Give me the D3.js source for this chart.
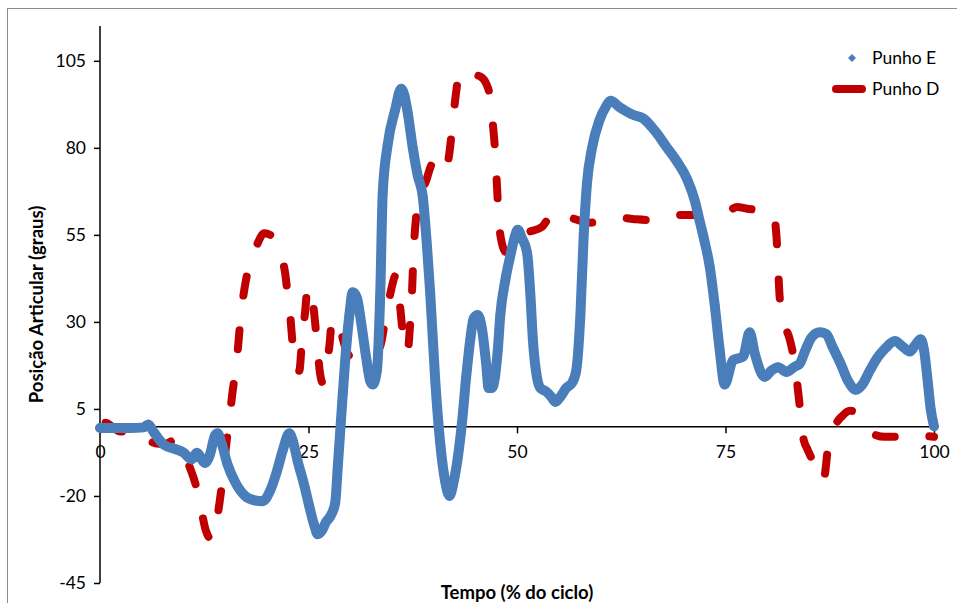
<!DOCTYPE html>
<html>
<head>
<meta charset="utf-8">
<script src="https://cdn.jsdelivr.net/npm/d3@7"></script>
<style>
  body { margin: 0; background: #fff; }
  svg { display: block; }
  text { font-family: Lato, "Open Sans", "Liberation Sans", sans-serif; fill: #000; }
</style>
</head>
<body>
<svg id="chart" width="957" height="603"></svg>
<script>
// Tempo (% do ciclo) e posição articular (graus) — Punho E
const tempoE = [0,1.8,3.6,5.2,5.8,6.4,7.0,7.8,9.0,10.0,11.0,11.6,12.6,13.2,13.8,14.1,14.6,15.3,16.2,17.4,18.6,19.5,20.4,21.2,21.9,22.7,23.1,23.7,24.5,25.1,25.7,26.1,26.6,27.1,27.7,28.2,28.5,28.9,29.4,29.9,30.3,30.8,31.3,31.9,32.4,32.7,33.2,33.6,33.9,34.5,35.4,36.1,36.5,36.9,37.5,38.1,38.7,39.2,39.6,40.2,40.8,41.4,41.9,42.4,42.9,43.4,43.9,44.4,44.8,45.3,45.8,46.3,46.6,47.0,47.7,48.0,48.6,49.2,49.8,50.1,50.6,51.2,51.6,51.9,52.4,52.8,53.5,54.1,54.6,55.2,55.9,56.6,57.1,57.6,58.0,58.4,59.0,59.9,60.7,61.2,62.4,63.9,65.1,66.5,68.0,69.2,70.4,71.3,71.9,72.5,73.1,73.7,74.3,74.9,75.9,77.1,77.9,78.5,79.7,80.5,81.3,82.3,83.2,83.9,84.6,85.3,86.3,87.1,87.8,88.8,89.7,90.6,91.4,92.3,93.3,94.2,95.3,96.2,97.1,97.8,98.4,98.8,99.2,99.6,100];
const punhoE = [-0.5,-0.5,-0.5,-0.3,0.5,-1.5,-3.5,-5.5,-6.5,-7.5,-9.5,-7.6,-10.5,-8,-2.5,-2,-5,-11,-16,-20,-21.3,-21.5,-18.5,-13,-7,-2,-4,-10,-17,-23,-28.5,-31,-30,-27.5,-25.5,-22,-12,2,19,32,38.5,37,30,20,13,12,16,38,67,81,91,97,95,90,80,72,66,52,38,13,-5,-16,-20,-16,-9,1,14,25,31,32,28,18,11,11,22,32,42,49,55,56.5,54,50,38,25,14,11,10,8.5,7,8.5,11,12.5,16,32,55,70,80,88,92,93.5,91.5,89.5,88.5,85,80,76,71,65,59,53,46,35,22,12,19,20,27,21,14.2,16,17,15.6,17,18,22,25.5,27,26.5,23,18,13,10.5,12,16,20,22.5,24.5,23,21.5,23.5,25,22,14,5,0];

// Punho D
const tempoD = [0,0.7,1.4,2.4,3.6,4.8,5.5,6.2,7.0,7.9,8.9,9.6,10.2,10.8,11.5,12.1,12.7,13.4,14.0,14.6,15.1,15.5,15.9,16.4,16.9,17.5,18.1,18.8,19.7,20.4,21.1,21.7,22.2,22.5,22.8,23.1,23.5,23.9,24.2,24.6,24.9,25.3,25.7,26.0,26.4,26.7,27.1,27.5,27.8,28.3,28.9,29.5,30.0,30.9,31.9,32.9,33.6,34.2,34.8,35.5,36.0,36.3,36.7,36.9,37.2,37.4,37.6,37.9,38.4,39.1,39.9,40.8,41.4,41.8,42.2,42.6,43.0,43.5,44.1,44.8,45.6,46.3,46.8,47.1,47.4,47.6,47.8,48.2,48.7,49.4,50.4,51.6,53.0,54.0,54.9,56.1,57.6,58.8,60.6,62.4,64.1,65.6,67.1,68.9,70.7,72.2,73.7,75.2,76.4,77.6,78.8,79.9,80.7,81.1,81.3,81.5,82.0,82.7,83.3,83.8,84.3,84.9,85.7,86.4,86.8,87.3,88.1,89.0,89.9,90.6,91.4,92.1,93.0,94.1,95.3,96.5,97.4,98.3,99.2,100];
const punhoD = [0.5,1,0,-1.5,-1.5,-1.5,-2.5,-4.5,-5,-5,-4,-5,-8.5,-12,-17,-23.5,-30,-32.5,-27,-17,-6,2,10,19,32,42,47.5,52,55.5,55,52.5,49,44,38,32,23.5,16,16,24,33,40,39,32,24.5,15,12.5,17,23,30,31,27,22,20,19.5,20,21,23,30.5,38,43.5,34,28,28.5,22,30,38,50,60,66,70.5,75.5,72.5,73.5,77,85,94,100.5,102.5,101.5,101,100.5,98.5,94,87,78,69,60,52.5,50,52,55,56,57.3,60,58,60,59,58.5,59.5,59.9,59.5,59.3,60.3,60.7,60.7,60.7,61,61.6,63,62.5,62.2,62,61.3,55,46,37,30,25,18,8,-3,-7,-11,-15.5,-15,-6,0,3,4.5,4,1,-1,-2.5,-3,-3,-3,-3.5,-3.2,-2.8,-3];

const yTicks = [-45, -20, 5, 30, 55, 80, 105];
const xTicks = [0, 25, 50, 75, 100];
const seriesNames = ["Punho E", "Punho D"];
const xTitle = "Tempo (% do ciclo)";
const yTitle = "Posição Articular (graus)";

const svg = d3.select("#chart");
const blue = "#4A7EBB", red = "#C00000";
const font = "Lato, 'Open Sans', sans-serif";

// chart frame
svg.append("rect").attr("x", 7.5).attr("y", 8.5).attr("width", 1000).attr("height", 1000)
  .attr("fill", "none").attr("stroke", "#8c8c8c").attr("stroke-width", 1);

const x = d3.scaleLinear().domain([0, 100]).range([100, 934]);
const y = d3.scaleLinear().domain([-45, 115]).range([583, 26]);

// y axis
const gy = svg.append("g").attr("transform", `translate(${x(0)},0)`)
  .call(d3.axisLeft(y).tickValues(yTicks).tickFormat(d => String(d))
    .tickSize(6).tickSizeOuter(0).tickPadding(8));
gy.select(".domain").attr("d", `M0,${y(115)}V${y(-45)}`);
gy.selectAll("path,line").attr("stroke", "#000").attr("stroke-width", 1.5);
gy.selectAll("text").attr("font-size", 17.5).attr("fill", "#000").style("font-family", font);

// x axis crossing at zero
const gx = svg.append("g").attr("transform", `translate(0,${y(0)})`)
  .call(d3.axisBottom(x).tickValues(xTicks).tickFormat(d => String(d))
    .tickSize(7).tickSizeOuter(0).tickPadding(12));
gx.selectAll("path,line").attr("stroke", "#000").attr("stroke-width", 1.5);
gx.selectAll("text").attr("font-size", 17.5).attr("fill", "#000").style("font-family", font);

// Punho D: dashed line
const line = d3.line().curve(d3.curveMonotoneX);
const dPts = tempoD.map((t, i) => [x(t), y(punhoD[i])]);
const dash = 19, gap = 35, period = dash + gap, lw = 8;
const dPath = svg.append("path")
  .attr("d", line(dPts))
  .attr("fill", "none").attr("stroke", red).attr("stroke-width", lw)
  .attr("stroke-linecap", "round").attr("stroke-linejoin", "round");
// anchor the dash pattern at the start of the plateau
const node = dPath.node();
const target = x(56.1);
let lo = 0, hi = node.getTotalLength();
for (let k = 0; k < 40; k++) {
  const mid = (lo + hi) / 2;
  if (node.getPointAtLength(mid).x < target) lo = mid; else hi = mid;
}
const d0 = lo + lw / 2;
dPath.attr("stroke-dasharray", `${dash} ${gap}`).attr("stroke-dashoffset", period - (d0 % period));

// Punho E: dense diamond markers
const ePts = tempoE.map((t, i) => [x(t), y(punhoE[i])]);
svg.append("path")
  .attr("d", line(ePts))
  .attr("fill", "none").attr("stroke", blue).attr("stroke-width", 10)
  .attr("stroke-linecap", "round").attr("stroke-linejoin", "round");
const diamond = r => `M0,${-r}L${r},0L0,${r}L${-r},0Z`;
svg.append("g").selectAll("path").data(ePts).join("path")
  .attr("transform", d => `translate(${d[0]},${d[1]})`)
  .attr("d", diamond(5)).attr("fill", blue);

// axis titles
svg.append("text").attr("x", (x(0) + x(100)) / 2).attr("y", 599)
  .attr("text-anchor", "middle").attr("font-size", 18.5).attr("font-weight", "bold").text(xTitle);
svg.append("text").attr("transform", `translate(43,${(y(115) + y(-45)) / 2}) rotate(-90)`)
  .attr("text-anchor", "middle").attr("font-size", 18.5).attr("font-weight", "bold").text(yTitle);

// legend
const lg = svg.append("g");
lg.append("path").attr("transform", "translate(852,58)").attr("d", diamond(4)).attr("fill", blue);
lg.append("line").attr("x1", 836).attr("x2", 862).attr("y1", 89).attr("y2", 89)
  .attr("stroke", red).attr("stroke-width", 8).attr("stroke-linecap", "round");
lg.selectAll("text").data(seriesNames).join("text")
  .attr("x", 872).attr("y", (d, i) => 58 + i * 31).attr("dy", "0.35em")
  .attr("font-size", 17.5).text(d => d);
</script>
</body>
</html>
